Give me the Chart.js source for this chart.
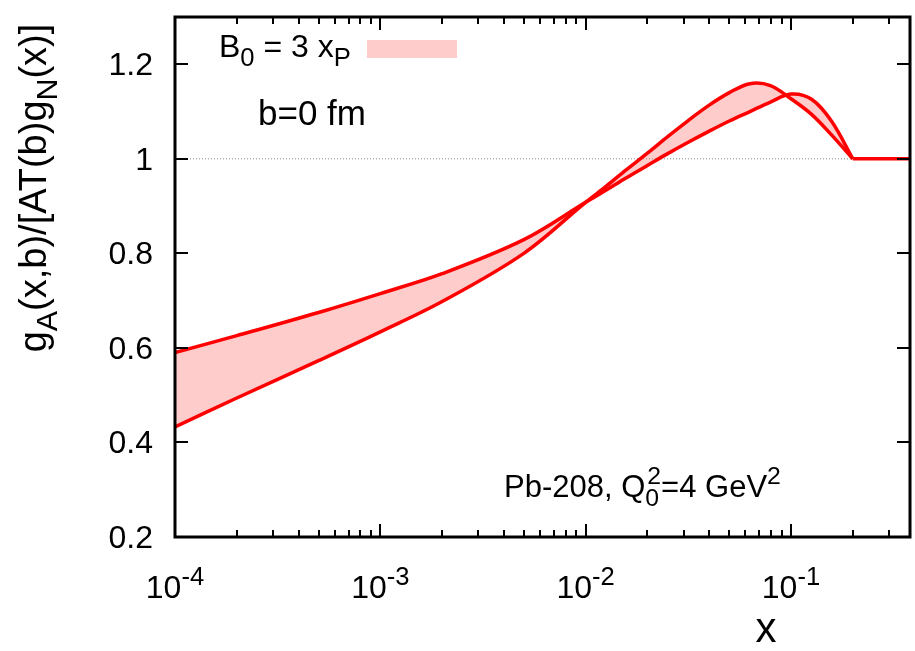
<!DOCTYPE html>
<html lang="en">
<head>
  <meta charset="UTF-8">
  <title>Nuclear gluon ratio</title>
  <script src="https://cdn.jsdelivr.net/npm/chart.js"></script>
  <style>
    * { box-sizing: border-box; }
    body { margin: 0; background: #fff; }
    #wrap { width: 915px; height: 651px; }
  </style>
</head>
<body>
  <div id="wrap"><canvas id="ratio" width="915" height="651"></canvas></div>

  <script>
    // x values shared by both edges of the band
    const xValues = [1e-4, 2e-4, 5e-4, 1e-3, 2e-3, 5e-3, 0.01, 0.0126, 0.0158, 0.02, 0.0251, 0.0316,
                     0.0398, 0.0501, 0.0631, 0.0794, 0.1, 0.126, 0.158, 0.2];
    // band edges g_A / [A T(b) g_N]
    const edgeUpper = [0.590, 0.626, 0.675, 0.715, 0.757, 0.829, 0.908, 0.934, 0.960, 0.986, 1.011, 1.035,
                       1.058, 1.080, 1.100, 1.120, 1.137, 1.126, 1.079, 1.000];
    const edgeLower = [0.433, 0.494, 0.573, 0.634, 0.698, 0.800, 0.908, 0.942, 0.977, 1.012, 1.047, 1.081,
                       1.113, 1.140, 1.159, 1.155, 1.127, 1.094, 1.050, 1.000];
    // above x = 0.2 the ratio is exactly 1
    const flatX = [0.2, 0.38];
    const flatY = [1, 1];
    // dotted reference line at ratio = 1
    const refX = [1e-4, 0.2];
    const refY = [1, 1];

    const yTicks = [0.2, 0.4, 0.6, 0.8, 1, 1.2];
    const yTickLabels = ['0.2', '0.4', '0.6', '0.8', '1', '1.2'];
    const xDecades = [1e-4, 1e-3, 1e-2, 1e-1];
    const xDecadeExp = ['-4', '-3', '-2', '-1'];

    const FONT = '"Liberation Sans", Arial, sans-serif';
    const RED = '#ff0000';
    const BAND = '#ffcccc';

    const pts = (xs, ys) => xs.map((v, i) => ({ x: v, y: ys[i] }));

    // text with sub/superscripts: parts = [{t, s}] where s is 'sub', 'sup' or undefined;
    // {sub, sup} stacks both on one spot
    function partFont(size) { return size + 'px ' + FONT; }
    function richWidth(ctx, parts, size) {
      let w = 0;
      parts.forEach(p => {
        if (p.sub !== undefined) {
          ctx.font = partFont(size * 0.8);
          w += Math.max(ctx.measureText(p.sub).width, ctx.measureText(p.sup).width);
        } else {
          ctx.font = partFont(p.s ? size * 0.8 : size);
          w += ctx.measureText(p.t).width;
        }
      });
      return w;
    }
    function drawRich(ctx, parts, x, y, size, align) {
      let cx = x;
      if (align === 'center') cx -= richWidth(ctx, parts, size) / 2;
      if (align === 'right') cx -= richWidth(ctx, parts, size);
      ctx.textAlign = 'left';
      ctx.textBaseline = 'alphabetic';
      parts.forEach(p => {
        if (p.sub !== undefined) {
          ctx.font = partFont(size * 0.8);
          ctx.fillText(p.sub, cx, y + size * 0.28);
          ctx.fillText(p.sup, cx + 2, y - size * 0.42);
          cx += Math.max(ctx.measureText(p.sub).width, ctx.measureText(p.sup).width) + 2;
          return;
        }
        const sz = p.s ? size * 0.8 : size;
        ctx.font = partFont(sz);
        const dy = p.s === 'sub' ? size * 0.28 : p.s === 'sup' ? -size * 0.42 : 0;
        ctx.fillText(p.t, cx, y + dy);
        cx += ctx.measureText(p.t).width;
      });
    }

    const frame = {
      id: 'frame',
      afterDraw(chart) {
        const { ctx, chartArea: a, scales: { x, y } } = chart;
        ctx.save();
        ctx.strokeStyle = '#000';
        ctx.fillStyle = '#000';

        // inward ticks, mirrored on the opposite side
        ctx.lineWidth = 2;
        ctx.beginPath();
        yTicks.forEach(v => {
          const py = Math.round(y.getPixelForValue(v));
          ctx.moveTo(a.left, py); ctx.lineTo(a.left + 13, py);
          ctx.moveTo(a.right, py); ctx.lineTo(a.right - 13, py);
        });
        xDecades.forEach(d => {
          for (let m = 1; m <= 9; m++) {
            const v = m * d;
            if (v > x.max) break;
            const px = Math.round(x.getPixelForValue(v));
            const len = m === 1 ? 13 : 7;
            ctx.moveTo(px, a.bottom); ctx.lineTo(px, a.bottom - len);
            ctx.moveTo(px, a.top); ctx.lineTo(px, a.top + len);
          }
        });
        ctx.stroke();

        ctx.lineWidth = 3;
        ctx.strokeRect(a.left, a.top, a.right - a.left, a.bottom - a.top);

        // tick labels
        ctx.font = partFont(32);
        ctx.textAlign = 'right';
        ctx.textBaseline = 'alphabetic';
        yTicks.forEach((v, i) => {
          ctx.fillText(yTickLabels[i], 153, y.getPixelForValue(v) + 11);
        });
        xDecades.forEach((d, i) => {
          drawRich(ctx, [{ t: '10' }, { t: xDecadeExp[i], s: 'sup' }], x.getPixelForValue(d), 598, 32, 'center');
        });

        // axis titles
        ctx.font = partFont(42);
        ctx.textAlign = 'center';
        ctx.fillText('x', 766, 642);
        ctx.save();
        ctx.translate(46, 188);
        ctx.rotate(-Math.PI / 2);
        drawRich(ctx, [{ t: 'g' }, { t: 'A', s: 'sub' }, { t: '(x,b)/[AT(b)g' }, { t: 'N', s: 'sub' }, { t: '(x)]' }], 0, 0, 38, 'center');
        ctx.restore();

        // key and annotations
        drawRich(ctx, [{ t: 'B' }, { t: '0', s: 'sub' }, { t: ' = 3 x' }, { t: 'P', s: 'sub' }], 219, 57, 32, 'left');
        ctx.fillStyle = BAND;
        ctx.fillRect(367, 40, 90, 18);
        ctx.fillStyle = '#000';
        drawRich(ctx, [{ t: 'b=0 fm' }], 258, 125, 35, 'left');
        drawRich(ctx, [{ t: 'Pb-208, Q' }, { sub: '0', sup: '2' }, { t: '=4 GeV' }, { t: '2', s: 'sup' }], 504, 497, 31, 'left');
        ctx.restore();
      }
    };

    const edgeStyle = {
      borderColor: RED,
      borderWidth: 3.5,
      pointRadius: 0,
      tension: 0.35
    };

    new Chart(document.getElementById('ratio'), {
      type: 'line',
      data: {
        datasets: [
          { label: 'upper', data: pts(xValues, edgeUpper), fill: false, ...edgeStyle },
          { label: 'B0 = 3 xP', data: pts(xValues, edgeLower), backgroundColor: BAND, fill: '-1', ...edgeStyle },
          { label: 'flat', data: pts(flatX, flatY), fill: false, ...edgeStyle, tension: 0 },
          {
            label: 'unity',
            data: pts(refX, refY),
            borderColor: '#888',
            borderWidth: 1,
            borderDash: [1, 2],
            pointRadius: 0,
            fill: false
          }
        ]
      },
      options: {
        responsive: false,
        animation: false,
        devicePixelRatio: 1,
        layout: { padding: { left: 175, right: 5, top: 17, bottom: 114 } },
        plugins: {
          legend: { display: false },
          tooltip: { enabled: false },
          filler: { drawTime: 'beforeDatasetsDraw' }
        },
        scales: {
          x: { type: 'logarithmic', min: 1e-4, max: 0.38, display: false },
          y: { type: 'linear', min: 0.2, max: 1.3, display: false }
        }
      },
      plugins: [frame]
    });
  </script>
</body>
</html>
